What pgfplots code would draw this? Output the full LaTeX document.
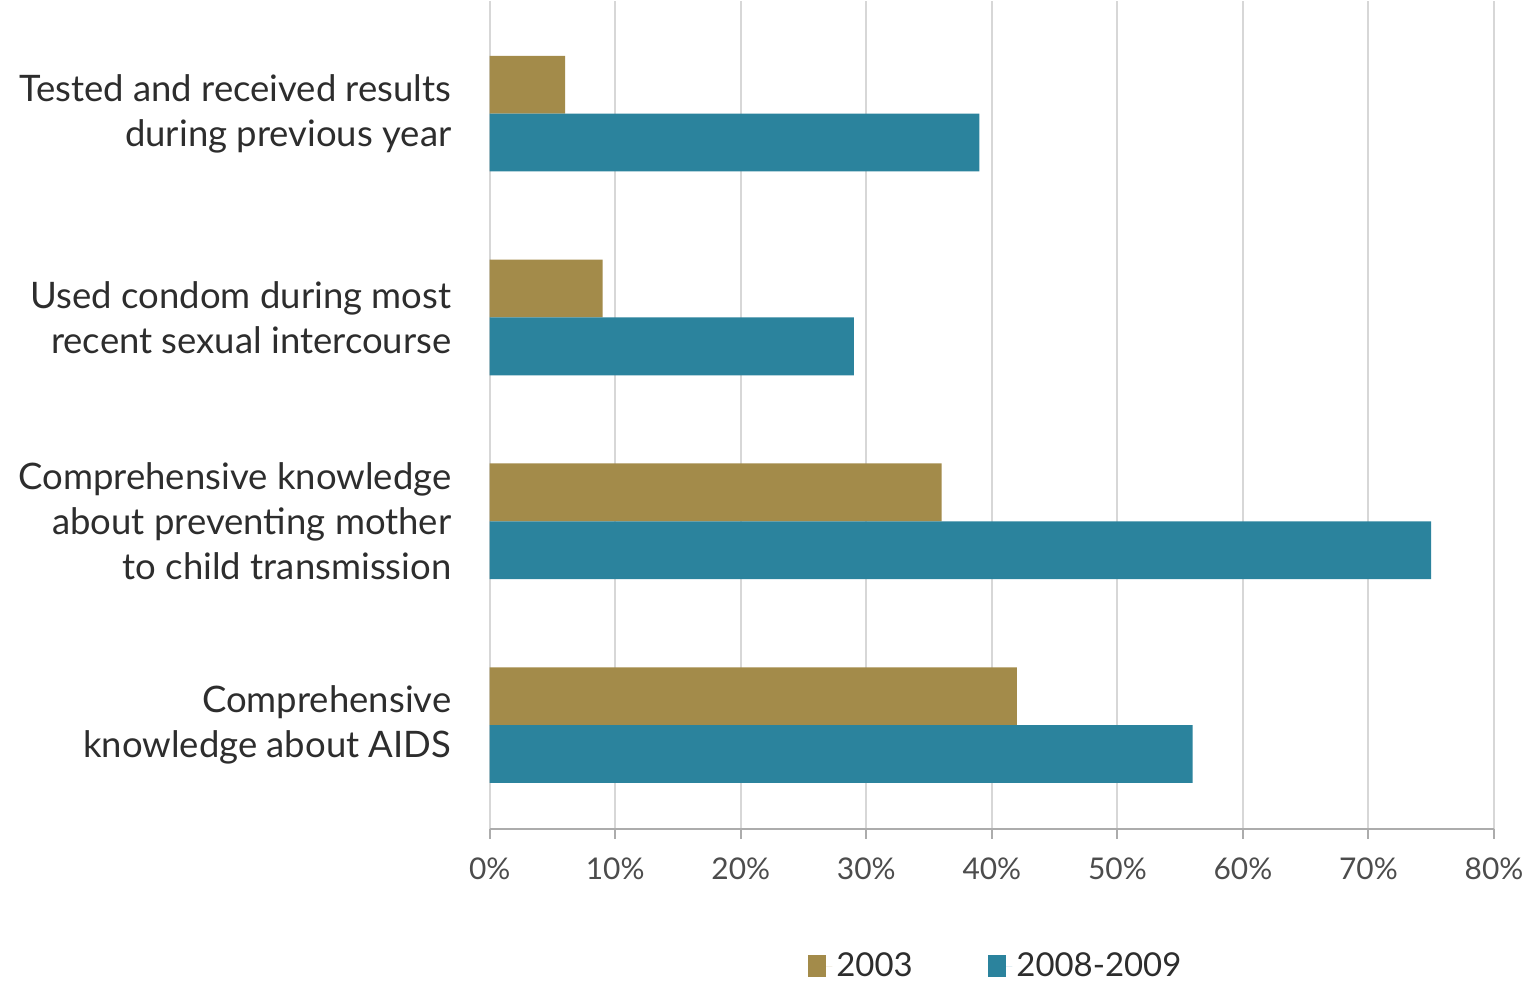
\documentclass[border=0pt]{standalone}
\usepackage{fontspec}
\setmainfont{Lato}
\usepackage{pgfplots}
\pgfplotsset{compat=1.18}
\definecolor{gold}{RGB}{163,139,74}
\definecolor{teal2}{RGB}{43,131,157}
\definecolor{gridgray}{RGB}{215,215,215}
\definecolor{txt}{RGB}{45,45,45}
\begin{document}
\begin{tikzpicture}
\begin{axis}[
  scale only axis, width=503.5pt, height=415pt,
  xbar, bar width=0.2836,
  xmin=0, xmax=80, ymin=-0.5086, ymax=3.5526,
  xtick={0,10,...,80},
  xticklabel={\pgfmathprintnumber{\tick}\%},
  /pgf/number format/assume math mode=true,
  ytick={0,1,2,3},
  yticklabels={{Comprehensive\\knowledge about AIDS},{Comprehensive knowledge\\about preventing mother\\to child transmission},{Used condom during most\\recent sexual intercourse},{Tested and received results\\during previous year}},
  yticklabel style={align=right, font=\fontsize{18.3}{22.5}\selectfont, text=txt, inner sep=0pt, xshift=-14pt},
  xticklabel style={font=\fontsize{15}{18}\selectfont, text=txt!85, yshift=-6pt},
  axis x line*=bottom, axis y line*=left,
  y axis line style={draw=none},
  x axis line style={gridgray!80!black, line width=1pt, -},
  ytick style={draw=none},
  xtick style={gridgray!80!black, line width=1pt},
  tick align=outside, major tick length=5pt,
  xmajorgrids, grid style={gridgray, line width=1pt},
  clip=false,
  legend style={at={(0.505,0)}, anchor=center, yshift=-69pt, draw=none, fill=none,
    legend columns=2, font=\fontsize{16.5}{19}\selectfont, text=txt,
    /tikz/every even column/.append style={column sep=36pt}},
  legend image code/.code={\fill[#1] (0pt,-5.5pt) rectangle (9pt,5.5pt); \path (0pt,0pt) -- (12pt,0pt);},
]
\addplot[fill=gold, draw=none, bar shift=0.1418] coordinates {(42,0) (36,1) (9,2) (6,3)};
\addplot[fill=teal2, draw=none, bar shift=-0.1418] coordinates {(56,0) (75,1) (29,2) (39,3)};
\legend{2003, 2008-2009}
\end{axis}
\path ([xshift=-245.5pt,yshift=-76.5pt]current axis.south west) rectangle ([xshift=16pt]current axis.north east);
\end{tikzpicture}
\end{document}
